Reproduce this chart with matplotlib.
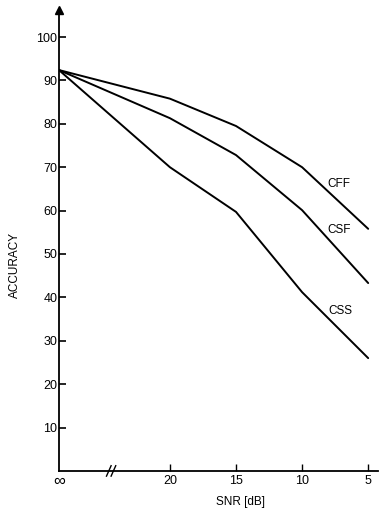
import numpy as np
import matplotlib.pyplot as plt

# SNR settings (dB); "inf" is the clean condition, drawn on a broken axis
snr_labels = ["∞", "20", "15", "10", "5"]
snr_pos = [0.0, 1.68, 2.68, 3.68, 4.68]  # axis scale positions for the labels

# accuracy (%) per classifier
cff = [92.4, 85.8, 79.5, 70.0, 55.8]
csf = [92.4, 81.3, 72.8, 60.1, 43.3]
css = [92.4, 70.0, 59.7, 41.2, 26.0]
series = {"CFF": cff, "CSF": csf, "CSS": css}
label_offset = {"CFF": (0.38, 2.5), "CSF": (0.38, 3.1), "CSS": (0.4, 2.4)}

y_ticks = [10, 20, 30, 40, 50, 60, 70, 80, 90, 100]

plt.rcParams['font.family'] = ['Liberation Sans', 'DejaVu Sans']

fig = plt.figure(figsize=(3.8, 5.08), dpi=100)
ax = fig.add_axes([0.155, 0.073, 0.84, 0.907])

for name, vals in series.items():
    ax.plot(snr_pos, vals, color="black", lw=1.4, solid_capstyle="round")
    dx, dy = label_offset[name]
    ax.text(snr_pos[3] + dx, vals[3] - (vals[3] - vals[4]) * 0.45 + dy, name,
            fontsize=8.5, ha="left", va="center")

ax.set_xlim(0, 4.83)
ax.set_ylim(0, 106.2)

ax.spines["top"].set_visible(False)
ax.spines["right"].set_visible(False)
ax.spines["left"].set_linewidth(1.3)
ax.spines["bottom"].set_linewidth(1.3)

ax.set_yticks(y_ticks)
ax.set_yticklabels([str(v) for v in y_ticks], fontsize=9)
ax.set_xticks(snr_pos[1:])
ax.set_xticklabels(snr_labels[1:], fontsize=9)
ax.tick_params(axis="y", direction="in", length=5, width=1.2, pad=1)
ax.tick_params(axis="x", direction="in", length=5, width=1.0, pad=3)

# infinity label at the origin
ax.text(0, -0.8, snr_labels[0], fontsize=12, ha="center", va="top",
        transform=ax.transData, clip_on=False)

# arrow head on the y axis
ax.plot([0], [106.2], marker="^", color="black", markersize=6,
        clip_on=False, transform=ax.transData)

# axis break mark
brk = 0.77
ax.plot([brk - 0.05, brk + 0.02], [-1.2, 1.2], color="black", lw=1.0, clip_on=False)
ax.plot([brk + 0.02, brk + 0.09], [-1.2, 1.2], color="black", lw=1.0, clip_on=False)

ax.set_ylabel("ACCURACY", fontsize=8.5)
ax.yaxis.set_label_coords(-0.118, 0.447)
ax.set_xlabel("SNR [dB]", fontsize=8.5, va="center")
ax.xaxis.set_label_coords(0.57, -0.067)

fig.savefig("out.png", dpi=100)
